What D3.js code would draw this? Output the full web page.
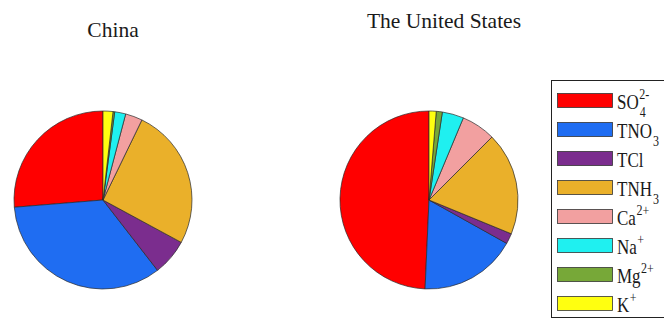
<!DOCTYPE html>
<html><head><meta charset="utf-8">
<script src="https://cdn.jsdelivr.net/npm/d3@7"></script>
<style>body{margin:0;background:#fff;}svg{display:block;}</style>
</head><body>
<script>
const categories = ["SO4", "TNO3", "TCl", "TNH3", "Ca", "Na", "Mg", "K"];
const labelBase = ["SO", "TNO", "TCl", "TNH", "Ca", "Na", "Mg", "K"];
const labelSup = ["2-", "", "", "", "2+", "+", "2+", "+"];
const labelSub = ["4", "3", "", "3", "", "", "", ""];
const colors = ["#ff0000", "#1f6df2", "#7b2d8e", "#eab02a", "#f2a0a0", "#1ff0f0", "#77a838", "#ffff10"];
const chinaValues = [26.3, 34.2, 6.6, 25.7, 3.1, 2.0, 0.3, 1.8];
const usValues = [49.3, 17.6, 1.9, 18.7, 6.2, 3.9, 1.1, 1.3];
const titles = ["China", "The United States"];

const W = 664, H = 320;
const FONT = "Liberation Serif";
const svg = d3.select("body").append("svg").attr("width", W).attr("height", H);
const color = d3.scaleOrdinal().domain(categories).range(colors);

const pie = d3.pie().sort(null).value(d => d.v).startAngle(0).endAngle(-2 * Math.PI);
const arc = d3.arc().innerRadius(0).outerRadius(89);

const panels = [
  {values: chinaValues, cx: 103, cy: 200, title: titles[0], tx: 113, ty: 37},
  {values: usValues, cx: 429, cy: 200, title: titles[1], tx: 444, ty: 28}
];

panels.forEach(p => {
  const data = categories.map((c, i) => ({c, v: p.values[i]}));
  const g = svg.append("g").attr("transform", `translate(${p.cx},${p.cy})`);
  g.selectAll("path").data(pie(data)).join("path")
    .attr("d", arc)
    .attr("fill", d => color(d.data.c))
    .attr("stroke", "#2a2a2a")
    .attr("stroke-width", 0.7);
  svg.append("text").attr("x", p.tx).attr("y", p.ty)
    .attr("text-anchor", "middle")
    .attr("font-family", FONT)
    .attr("font-size", 21.5).attr("fill", "#1a1a1a")
    .text(p.title);
});

// Legend
const lg = svg.append("g");
lg.append("rect").attr("x", 551.5).attr("y", 80.5).attr("width", 130).attr("height", 237)
  .attr("fill", "#fff").attr("stroke", "#222").attr("stroke-width", 1);
const ly = d3.scalePoint().domain(categories).range([93, 296]);
const SY = 1.2;
function stretchedText(x, y, size, str) {
  return lg.append("text")
    .attr("transform", `translate(${x},${y}) scale(1,${SY})`)
    .attr("font-family", FONT)
    .attr("font-size", size).attr("fill", "#1a1a1a").text(str);
}
categories.forEach((c, i) => {
  const y = ly(c);
  lg.append("rect").attr("x", 557.5).attr("y", y + 0.5).attr("width", 55).attr("height", 14)
    .attr("fill", color(c)).attr("stroke", "#333").attr("stroke-width", 0.8);
  const t = stretchedText(617, y + 16, 17, labelBase[i]);
  const bw = t.node().getComputedTextLength();
  if (labelSup[i]) stretchedText(617 + bw + 0.5, y + 6, 12, labelSup[i]);
  if (labelSub[i]) stretchedText(617 + bw + 1, y + 24, 12, labelSub[i]);
});
</script>
</body></html>
